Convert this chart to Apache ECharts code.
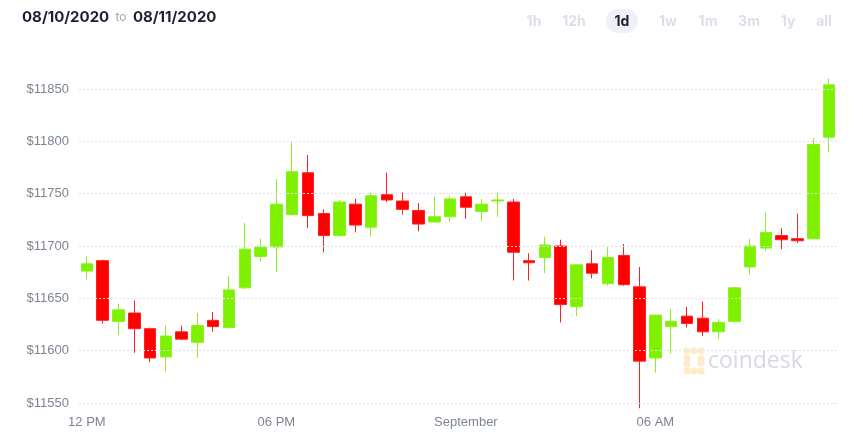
<!DOCTYPE html>
<html>
<head>
<meta charset="utf-8">
<script src="https://cdn.jsdelivr.net/npm/echarts@6/dist/echarts.min.js"></script>
<style>
  html, body { margin: 0; padding: 0; background: #fff; }
  #chart { width: 863px; height: 432px; }
</style>
</head>
<body>
<div id="chart"></div>
<script>
// 30-minute candles, 12:00 on 08/10 to 11:30 on 08/11
const times = [
  '12:00', '12:30', '13:00', '13:30', '14:00', '14:30', '15:00', '15:30',
  '16:00', '16:30', '17:00', '17:30', '18:00', '18:30', '19:00', '19:30',
  '20:00', '20:30', '21:00', '21:30', '22:00', '22:30', '23:00', '23:30',
  '00:00', '00:30', '01:00', '01:30', '02:00', '02:30', '03:00', '03:30',
  '04:00', '04:30', '05:00', '05:30', '06:00', '06:30', '07:00', '07:30',
  '08:00', '08:30', '09:00', '09:30', '10:00', '10:30', '11:00', '11:30'
]
const opens = [
  11676, 11686, 11628, 11636, 11621, 11594, 11618, 11608, 11629, 11622, 11660, 11690,
  11699, 11730, 11770, 11731, 11710, 11740, 11718, 11749, 11743, 11734, 11723, 11728,
  11747, 11733, 11743, 11742, 11686, 11689, 11700, 11642, 11683, 11664, 11691, 11661,
  11593, 11623, 11633, 11631, 11618, 11628, 11680, 11698, 11710, 11707, 11707, 11804
]
const closes = [
  11683, 11629, 11639, 11621, 11593, 11614, 11611, 11624, 11623, 11658, 11697, 11699,
  11740, 11771, 11729, 11710, 11742, 11720, 11748, 11744, 11735, 11721, 11728, 11745,
  11737, 11740, 11744, 11694, 11684, 11701, 11644, 11682, 11674, 11689, 11663, 11590,
  11634, 11628, 11626, 11618, 11627, 11660, 11700, 11713, 11706, 11705, 11797, 11854
]
const lows = [
  11668, 11626, 11615, 11598, 11589, 11580, 11610, 11593, 11618, 11621, 11659, 11685,
  11675, 11729, 11717, 11694, 11709, 11713, 11709, 11742, 11730, 11714, 11722, 11723,
  11726, 11724, 11728, 11667, 11667, 11674, 11627, 11633, 11669, 11662, 11662, 11545,
  11579, 11597, 11622, 11614, 11611, 11626, 11673, 11695, 11697, 11703, 11706, 11790
]
const highs = [
  11690, 11687, 11645, 11648, 11622, 11624, 11624, 11636, 11637, 11671, 11722, 11707,
  11764, 11800, 11787, 11735, 11744, 11745, 11751, 11770, 11751, 11741, 11747, 11748,
  11751, 11745, 11751, 11745, 11693, 11709, 11706, 11682, 11696, 11699, 11702, 11680,
  11634, 11640, 11642, 11647, 11630, 11661, 11707, 11732, 11717, 11731, 11803, 11860
]
const tickLabels = { '12:00': '12 PM', '18:00': '06 PM', '00:00': 'September', '06:00': '06 AM' }
const ranges = ['1h', '12h', '1d', '1w', '1m', '3m', '1y', 'all']
const rangeX = [534, 574, 622, 668, 708, 749, 788, 824]

const candles = opens.map((o, i) => [o, closes[i], lows[i], highs[i]])

const chart = echarts.init(document.getElementById('chart'))

// header: date range + range buttons
const header = [
  {
    type: 'text', left: 22, top: 10,
    style: {
      text: '{d|08/10/2020} {t|to} {d|08/11/2020}',
      rich: {
        d: { fontFamily: 'Inter', fontWeight: 'bold', fontSize: 15, fill: '#1b2033' },
        t: { fontFamily: 'Inter', fontSize: 12, fill: '#a3a8b8', padding: [0, 3, 0, 3] }
      }
    }
  },
  {
    type: 'rect', shape: { x: 606, y: 9, width: 32, height: 24, r: 12 },
    style: { fill: '#eef1f8' }
  }
]
ranges.forEach((r, i) => {
  header.push({
    type: 'text', x: rangeX[i], y: 22,
    style: {
      text: r, align: 'center', verticalAlign: 'middle',
      fontFamily: 'Inter', fontWeight: 'bold', fontSize: 14,
      fill: r === '1d' ? '#1b2033' : '#dcdfe8'
    }
  })
})

// coindesk watermark
const logoDots = [
  [687, 351], [694, 351], [701, 351],
  [687, 358], [687, 364],
  [687, 371], [694, 371], [701, 371],
  [701, 359], [701, 363]
]
logoDots.forEach(p => {
  header.push({
    type: 'circle', shape: { cx: p[0], cy: p[1], r: 3.6 },
    style: { fill: '#fdebc9' }, z: 1
  })
})
header.push({
  type: 'text', x: 708, y: 361, z: 1,
  style: {
    text: 'coindesk', verticalAlign: 'middle',
    fontFamily: 'Open Sans', fontSize: 23, fill: '#d6d9e1'
  }
})

chart.setOption({
  animation: false,
  grid: { left: 79, right: 26, top: 89, height: 314 },
  graphic: header,
  xAxis: {
    type: 'category',
    data: times,
    boundaryGap: true,
    axisLine: { show: false },
    axisTick: { show: false },
    splitLine: { show: false },
    axisLabel: {
      interval: 0,
      margin: 13,
      color: '#7d8593',
      fontFamily: 'Liberation Sans',
      fontSize: 13,
      formatter: v => tickLabels[v] || ''
    }
  },
  yAxis: {
    type: 'value',
    min: 11550,
    max: 11850,
    interval: 50,
    z: 3,
    axisLine: { show: false },
    axisTick: { show: false },
    axisLabel: {
      margin: 10,
      color: '#7d8593',
      fontFamily: 'Liberation Sans',
      fontSize: 13,
      formatter: v => '$' + v
    },
    splitLine: { lineStyle: { color: '#dfe2ec', type: [2, 2], width: 1 } }
  },
  series: [{
    type: 'candlestick',
    data: candles,
    clip: false,
    barWidth: 12,
    itemStyle: {
      color: '#7ef000',
      color0: '#ff0000',
      borderColor: '#8cf21e',
      borderColor0: '#ff2020',
      borderWidth: 1
    }
  }]
})
</script>
</body>
</html>
